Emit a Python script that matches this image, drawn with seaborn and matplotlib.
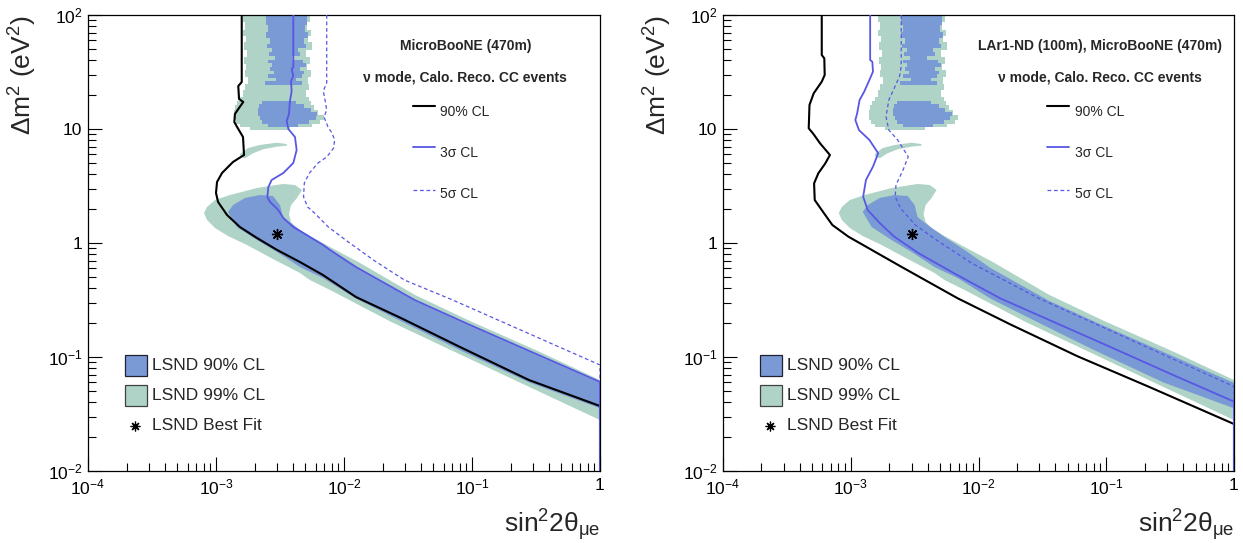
import numpy as np
import pandas as pd
import matplotlib
matplotlib.use("Agg")
import matplotlib.pyplot as plt
import seaborn as sns
from matplotlib.ticker import FixedLocator, FixedFormatter, LogLocator, NullFormatter
from matplotlib.patches import Rectangle

# ---------------- data (log10 of sin^2 2theta, log10 of dm^2) ----------------
# MicroBooNE (470m) sensitivity curves
uboone_90_lx = [-2.799, -2.799, -2.826, -2.820, -2.787, -2.826, -2.852, -2.857, -2.826, -2.789, -2.781, -2.867,
                -2.953, -2.992, -3.0, -2.984, -2.914, -2.813, -2.680, -2.523, -2.344, -2.164, -1.906, -1.555,
                -1.094, -0.555, 0.0, 0.0]
uboone_90_ly = [2.0, 1.412, 1.377, 1.263, 1.237, 1.175, 1.132, 1.061, 1.0, 0.930, 0.772, 0.711, 0.614, 0.535,
                0.439, 0.360, 0.246, 0.140, 0.044, -0.061, -0.167, -0.281, -0.474, -0.658, -0.912, -1.202,
                -1.430, -2.0]
uboone_3s_lx = [-2.396, -2.396, -2.409, -2.396, -2.414, -2.409, -2.422, -2.430, -2.448, -2.435, -2.383, -2.370,
                -2.396, -2.474, -2.565, -2.591, -2.599, -2.578, -2.513, -2.474, -2.396, -2.291, -2.162, -2.109,
                -1.906, -1.448, -1.016, 0.0, 0.0]
uboone_3s_ly = [2.0, 1.544, 1.526, 1.465, 1.421, 1.333, 1.246, 1.132, 1.070, 1.0, 0.930, 0.816, 0.702, 0.614,
                0.553, 0.491, 0.404, 0.360, 0.289, 0.219, 0.140, 0.070, -0.018, -0.061, -0.211, -0.500, -0.719,
                -1.219, -2.0]
uboone_5s_lx = [-2.135, -2.135, -2.162, -2.148, -2.135, -2.156, -2.125, -2.094, -2.073, -2.081, -2.135, -2.203,
                -2.270, -2.310, -2.316, -2.284, -2.230, -2.122, -1.987, -1.771, -1.528, -1.151, 0.0, 0.0]
uboone_5s_ly = [2.0, 1.404, 1.333, 1.254, 1.167, 1.105, 1.018, 0.965, 0.904, 0.833, 0.754, 0.702, 0.614, 0.526,
                0.404, 0.316, 0.263, 0.140, 0.026, -0.149, -0.325, -0.500, -1.070, -2.0]

# LAr1-ND (100m) + MicroBooNE (470m) sensitivity curves
lar1_90_lx = [-3.227, -3.227, -3.207, -3.204, -3.227, -3.290, -3.323, -3.329, -3.296, -3.240, -3.163, -3.199,
              -3.254, -3.287, -3.282, -3.227, -3.144, -3.019, -2.881, -2.605, -2.163, -1.749, -1.224, -0.671,
              0.0, 0.0]
lar1_90_ly = [2.0, 1.649, 1.620, 1.474, 1.415, 1.313, 1.211, 1.006, 0.962, 0.874, 0.772, 0.699, 0.611, 0.523,
              0.377, 0.289, 0.158, 0.056, -0.032, -0.208, -0.485, -0.715, -0.994, -1.259, -1.588, -2.0]
lar1_3s_lx = [-2.848, -2.848, -2.831, -2.826, -2.854, -2.895, -2.931, -2.950, -2.964, -2.936, -2.854, -2.785,
              -2.826, -2.881, -2.903, -2.867, -2.771, -2.660, -2.467, -2.191, -1.831, -1.0, -0.450, 0.0, 0.0]
lar1_3s_ly = [2.0, 1.605, 1.590, 1.503, 1.430, 1.327, 1.254, 1.137, 1.079, 0.991, 0.904, 0.787, 0.670, 0.553,
              0.406, 0.289, 0.173, 0.056, -0.091, -0.266, -0.485, -0.896, -1.171, -1.391, -2.0]
lar1_5s_lx = [-2.605, -2.605, -2.619, -2.660, -2.702, -2.724, -2.702, -2.633, -2.550, -2.591, -2.646, -2.652,
              -2.610, -2.494, -2.329, -2.052, -1.528, 0.0, 0.0]
lar1_5s_ly = [2.0, 1.547, 1.459, 1.357, 1.254, 1.108, 0.991, 0.904, 0.757, 0.640, 0.509, 0.406, 0.304, 0.158,
              0.026, -0.178, -0.485, -1.259, -2.0]

# LSND allowed regions
lsnd99_main_lx = [-2.328, -2.367, -2.414, -2.430, -2.414, -2.359, -2.266, -2.109, -1.875, -1.445, -1.016, -0.469,
                  0.0, 0.0, -0.558, -1.097, -1.636, -2.109, -2.266, -2.344, -2.555, -2.773, -2.906, -3.008,
                  -3.070, -3.094, -3.070, -3.008, -2.891, -2.680, -2.477, -2.383]
lsnd99_main_ly = [0.465, 0.395, 0.333, 0.254, 0.184, 0.123, 0.061, -0.035, -0.175, -0.456, -0.684, -0.956,
                  -1.202, -1.553, -1.260, -0.975, -0.690, -0.412, -0.325, -0.263, -0.140, -0.009, 0.061, 0.132,
                  0.202, 0.263, 0.316, 0.377, 0.421, 0.482, 0.518, 0.509]
lsnd99_island_lx = [-2.8125, -2.75, -2.656, -2.523, -2.448, -2.445, -2.526, -2.633, -2.711, -2.773, -2.807]
lsnd99_island_ly = [0.781, 0.833, 0.860, 0.880, 0.868, 0.854, 0.845, 0.822, 0.787, 0.743, 0.757]
lsnd99_upper_ly = [2.0, 1.939, 1.868, 1.816, 1.763, 1.693, 1.632, 1.570, 1.518, 1.456, 1.395, 1.342, 1.281,
                   1.246, 1.211, 1.167, 1.123, 1.079, 1.044, 1.018, 0.991]
lsnd99_upper_left = [-2.789, -2.773, -2.789, -2.766, -2.781, -2.758, -2.781, -2.766, -2.773, -2.75, -2.773,
                     -2.789, -2.8125, -2.836, -2.852, -2.859, -2.859, -2.844, -2.8125, -2.734, -2.734]
lsnd99_upper_right = [-2.266, -2.289, -2.258, -2.281, -2.25, -2.297, -2.266, -2.289, -2.258, -2.281, -2.273,
                      -2.297, -2.273, -2.258, -2.234, -2.203, -2.16, -2.1875, -2.25, -2.422, -2.422]

lsnd90_main_lx = [-2.867, -2.773, -2.656, -2.555, -2.5, -2.477, -2.398, -2.266, -2.109, -1.906, -1.445, -1.016,
                  0.0, 0.0, -0.555, -1.094, -1.555, -1.906, -2.164, -2.344, -2.523, -2.680, -2.836, -2.906]
lsnd90_main_ly = [0.333, 0.395, 0.421, 0.412, 0.333, 0.228, 0.158, 0.053, -0.061, -0.219, -0.509, -0.728,
                  -1.228, -1.450, -1.222, -0.940, -0.685, -0.488, -0.307, -0.211, -0.079, 0.026, 0.140, 0.272]
lsnd90_upper_ly = [2.0, 1.912, 1.851, 1.798, 1.746, 1.711, 1.675, 1.640, 1.605, 1.579, 1.544, 1.509, 1.482,
                   1.447, 1.421, 1.386]
lsnd90_upper_left = [-2.609, -2.594, -2.609, -2.578, -2.602, -2.5625, -2.586, -2.539, -2.594, -2.5625, -2.578,
                     -2.547, -2.594, -2.531, -2.617, -2.617]
lsnd90_upper_right = [-2.289, -2.305, -2.281, -2.3125, -2.297, -2.359, -2.344, -2.406, -2.320, -2.297, -2.344,
                      -2.3125, -2.328, -2.375, -2.328, -2.328]
lsnd90_blob_ly = [1.246, 1.219, 1.184, 1.149, 1.114, 1.079, 1.044, 1.018]
lsnd90_blob_left = [-2.641, -2.664, -2.672, -2.672, -2.656, -2.641, -2.594, -2.594]
lsnd90_blob_right = [-2.375, -2.3125, -2.26, -2.21, -2.22, -2.27, -2.359, -2.359]

lsnd_best_fit = (0.003, 1.2)

x_tick_values = [1e-4, 1e-3, 1e-2, 1e-1, 1.0]
x_tick_labels = ['$10^{-4}$', '$10^{-3}$', '$10^{-2}$', '$10^{-1}$', '1']
y_tick_values = [1e-2, 1e-1, 1.0, 10.0, 100.0]
y_tick_labels = ['$10^{-2}$', '$10^{-1}$', '1', '10', '$10^{2}$']

panel_titles = ["MicroBooNE (470m)", "LAr1-ND (100m), MicroBooNE (470m)"]
subtitle = "\u03bd mode, Calo. Reco. CC events"
cl_labels = ["90% CL", "3\u03c3 CL", "5\u03c3 CL"]
lsnd_labels = ["LSND 90% CL", "LSND 99% CL", "LSND Best Fit"]

# ---------------- style ----------------
sns.set_theme(style="white")
plt.rcParams['font.family'] = ['Liberation Sans', 'DejaVu Sans']
plt.rcParams['mathtext.fontset'] = 'custom'
plt.rcParams['mathtext.rm'] = 'Liberation Sans'
plt.rcParams['mathtext.it'] = 'Liberation Sans'
plt.rcParams['mathtext.bf'] = 'Liberation Sans:bold'
plt.rcParams['axes.linewidth'] = 0.9
plt.rcParams['axes.edgecolor'] = 'black'

TEAL = '#afd3c6'
BLUE = '#7a9ad5'
LINE_BLUE = '#5757e4'
STAR = (8, 2, 0)

fig = plt.figure(figsize=(12.43, 5.43), dpi=100)
W, H = 1243, 543
ax1 = fig.add_axes([88 / W, 1 - 471 / H, 512 / W, 456 / H])
ax2 = fig.add_axes([723 / W, 1 - 471 / H, 511 / W, 456 / H])


def p10(a):
    return 10 ** np.asarray(a, dtype=float)


def draw_lsnd(ax):
    ax.fill(p10(lsnd99_main_lx), p10(lsnd99_main_ly), color=TEAL, lw=0, zorder=1)
    ax.fill(p10(lsnd99_island_lx), p10(lsnd99_island_ly), color=TEAL, lw=0, zorder=1)
    ax.fill_betweenx(p10(lsnd99_upper_ly), p10(lsnd99_upper_left), p10(lsnd99_upper_right),
                     step='post', color=TEAL, lw=0, zorder=1)
    ax.fill(p10(lsnd90_main_lx), p10(lsnd90_main_ly), color=BLUE, lw=0, zorder=1.5)
    ax.fill_betweenx(p10(lsnd90_upper_ly), p10(lsnd90_upper_left), p10(lsnd90_upper_right),
                     step='post', color=BLUE, lw=0, zorder=1.5)
    ax.fill_betweenx(p10(lsnd90_blob_ly), p10(lsnd90_blob_left), p10(lsnd90_blob_right),
                     step='post', color=BLUE, lw=0, zorder=1.5)


def draw_curve(ax, lx, ly, color, lw, ls):
    df = pd.DataFrame({'x': p10(lx), 'y': p10(ly)})
    sns.lineplot(data=df, x='x', y='y', sort=False, estimator=None, ax=ax, color=color,
                 linewidth=lw, linestyle=ls, legend=False, zorder=3)


curves = [
    ((uboone_90_lx, uboone_90_ly), (uboone_3s_lx, uboone_3s_ly), (uboone_5s_lx, uboone_5s_ly)),
    ((lar1_90_lx, lar1_90_ly), (lar1_3s_lx, lar1_3s_ly), (lar1_5s_lx, lar1_5s_ly)),
]

for ax, title, (c90, c3, c5) in zip([ax1, ax2], panel_titles, curves):
    ax.set_xscale('log')
    ax.set_yscale('log')
    draw_lsnd(ax)
    draw_curve(ax, c90[0], c90[1], 'black', 1.5, '-')
    draw_curve(ax, c5[0], c5[1], LINE_BLUE, 0.9, (0, (3.0, 2.2)))
    draw_curve(ax, c3[0], c3[1], LINE_BLUE, 1.3, '-')
    ax.plot([lsnd_best_fit[0]], [lsnd_best_fit[1]], marker=STAR, ms=8, mew=1.0,
            color='black', ls='none', zorder=4)

    ax.set_xlim(1e-4, 1.0)
    ax.set_ylim(1e-2, 1e2)
    ax.xaxis.set_major_locator(FixedLocator(x_tick_values))
    ax.xaxis.set_major_formatter(FixedFormatter(x_tick_labels))
    ax.yaxis.set_major_locator(FixedLocator(y_tick_values))
    ax.yaxis.set_major_formatter(FixedFormatter(y_tick_labels))
    ax.xaxis.set_minor_locator(LogLocator(base=10, subs=np.arange(2, 10)))
    ax.yaxis.set_minor_locator(LogLocator(base=10, subs=np.arange(2, 10)))
    ax.xaxis.set_minor_formatter(NullFormatter())
    ax.yaxis.set_minor_formatter(NullFormatter())
    ax.tick_params(which='both', direction='in', bottom=True, left=True, top=False, right=False,
                   colors='black', width=0.8)
    ax.tick_params(which='major', length=10, labelsize=12.5)
    ax.tick_params(axis='x', which='major', pad=5)
    ax.tick_params(axis='y', which='major', pad=4)
    ax.tick_params(which='minor', length=5.5)
    for s in ax.spines.values():
        s.set_visible(True)
        s.set_color('black')
        s.set_linewidth(0.9)
    ax.grid(False)

    ax.set_xlabel('sin$^{2}$2$\\theta_{\\mu e}$', fontsize=19, loc='right')
    ax.set_ylabel('\u0394m$^{2}$ (eV$^{2}$)', fontsize=19, loc='top')
    ax.xaxis.set_label_coords(1.0, -0.08)
    ax.yaxis.set_label_coords(-0.095, 1.0)

    # titles
    ax.text(0.737, 0.932, title, transform=ax.transAxes, ha='center', va='center',
            fontsize=10, fontweight='bold')
    ax.text(0.737, 0.864, subtitle, transform=ax.transAxes, ha='center', va='center',
            fontsize=10, fontweight='bold')

    # CL legend
    for (yl, yt), lab, col, lw, ls in zip([(0.7996, 0.787), (0.7105, 0.697), (0.6162, 0.607)], cl_labels,
                                          ['black', LINE_BLUE, LINE_BLUE], [1.5, 1.3, 0.9],
                                          ['-', '-', (0, (3.0, 2.2))]):
        ax.plot([0.635, 0.678], [yl, yl], transform=ax.transAxes, color=col, lw=lw, ls=ls, zorder=5)
        ax.text(0.688, yt, lab, transform=ax.transAxes, ha='left', va='center', fontsize=10)

    # LSND legend
    ax.add_patch(Rectangle((0.0723, 0.2083), 0.0429, 0.0461, transform=ax.transAxes,
                           facecolor=BLUE, edgecolor='#202030', lw=0.9, zorder=5))
    ax.add_patch(Rectangle((0.0723, 0.1425), 0.0429, 0.0461, transform=ax.transAxes,
                           facecolor=TEAL, edgecolor='#404040', lw=0.9, zorder=5))
    ax.plot([0.0925], [0.0987], transform=ax.transAxes, marker=STAR, ms=7, mew=0.9,
            color='black', ls='none', zorder=5)
    for yt, lab in zip([0.2313, 0.1655, 0.0997], lsnd_labels):
        ax.text(0.125, yt, lab, transform=ax.transAxes, ha='left', va='center', fontsize=12.5)

fig.savefig('out.png', dpi=100)
